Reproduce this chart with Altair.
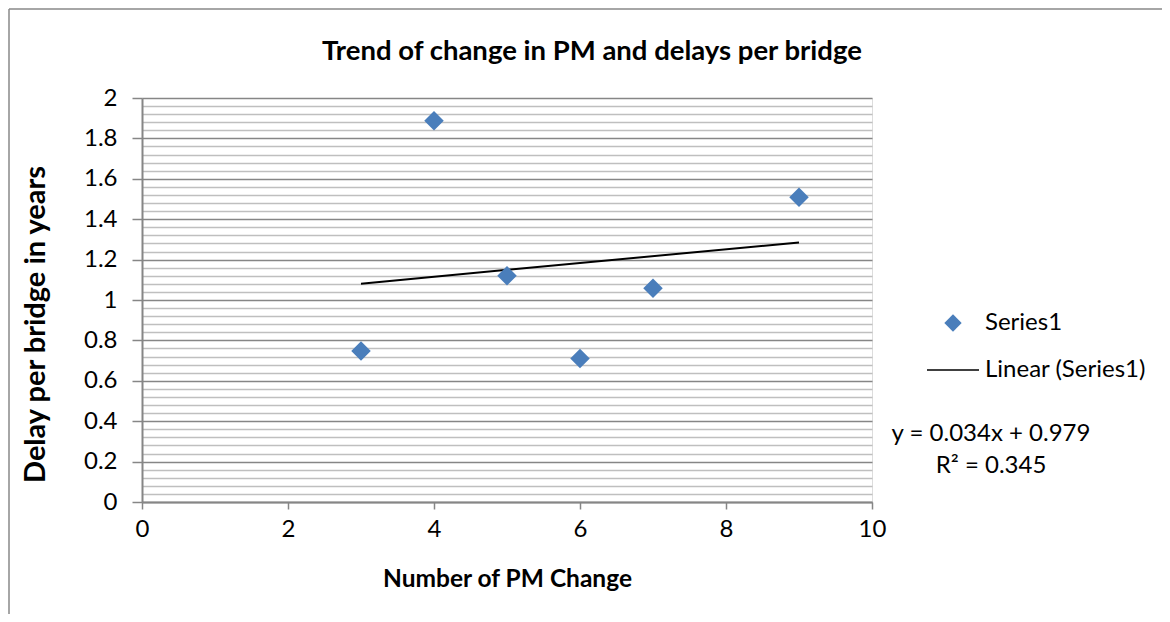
import altair as alt
import pandas as pd

# Data
pm_change = [3, 4, 5, 6, 7, 9]
delay_years = [0.748, 1.887, 1.120, 0.710, 1.058, 1.509]

# Linear trendline endpoints (as drawn, from y = 0.034x + 0.979)
trend_x = [3, 9]
trend_y = [1.081, 1.285]

x_ticks = [0, 2, 4, 6, 8, 10]
y_ticks = [0, 0.2, 0.4, 0.6, 0.8, 1.0, 1.2, 1.4, 1.6, 1.8, 2.0]
y_minor = [round(i * 0.04, 2) for i in range(51) if i % 5 != 0]

legend_labels = ["Series1", "Linear (Series1)"]
eq_text = "y = 0.034x + 0.979"
r2_text = "R\u00b2 = 0.345"

title_text = "Trend of change in PM and delays per bridge"
x_title = "Number of PM Change"
y_title = "Delay per bridge in years"

FONT = "Lato"
BLUE = "#4A7EBB"
AXIS_GRAY = "#868686"

W, H = 730, 404

pts = pd.DataFrame({"x": pm_change, "y": delay_years})
trend = pd.DataFrame({"x": trend_x, "y": trend_y})
one = pd.DataFrame({"k": [0]})

x_axis = alt.Axis(
    values=x_ticks, grid=False, domainColor=AXIS_GRAY, domainWidth=2,
    tickColor=AXIS_GRAY, tickWidth=1.5, tickSize=7, labelFontSize=24,
    labelFont=FONT, labelColor="#000000", labelPadding=8, labelFlush=False,
    title=x_title, titleFont=FONT, titleFontSize=24.5, titleFontWeight="bold",
    titleColor="#000000", titlePadding=26,
)
x_scale = alt.Scale(domain=[0, 10], nice=False, zero=False)
y_scale = alt.Scale(domain=[0, 2], nice=False)

points = alt.Chart(pts).mark_point(
    shape="diamond", filled=True, size=380, color=BLUE, opacity=1
).encode(
    x=alt.X("x:Q", scale=x_scale, axis=x_axis),
    y=alt.Y(
        "y:Q", scale=y_scale,
        axis=alt.Axis(
            values=y_ticks, grid=True, gridColor=AXIS_GRAY, gridWidth=1.3,
            domainColor=AXIS_GRAY, domainWidth=2, tickColor=AXIS_GRAY,
            tickWidth=1.5, tickSize=10, labelFontSize=24, labelFont=FONT,
            labelColor="#000000", labelPadding=15, labelFlush=False,
            format="~g", orient="left",
            title=y_title, titleFont=FONT, titleFontSize=29,
            titleFontWeight="bold", titleColor="#000000", titlePadding=33,
            titleY=226,
        ),
    ),
)

trend_line = alt.Chart(trend).mark_line(color="#000000", strokeWidth=2).encode(
    x=alt.X("x:Q", scale=x_scale, axis=x_axis),
    y=alt.Y(
        "y:Q", scale=y_scale,
        axis=alt.Axis(
            values=y_minor, grid=True, gridColor="#BFBFBF", gridWidth=1.3,
            domain=False, ticks=False, labels=False, title=None, orient="right",
        ),
    ),
)

# Chart title as a text mark above the plot
title = alt.Chart(pd.DataFrame({"t": [title_text]})).mark_text(
    align="center", baseline="middle", font=FONT, fontSize=27.5,
    fontWeight="bold", color="#000000"
).encode(x=alt.value(450), y=alt.value(-46), text="t:N")

# Manual legend, placed to the right of the plot like the original
leg_sym = alt.Chart(one).mark_point(
    shape="diamond", filled=True, size=300, color=BLUE, opacity=1
).encode(x=alt.value(811), y=alt.value(225))

leg_line = alt.Chart(one).mark_rule(color="#000000", strokeWidth=1.5).encode(
    x=alt.value(785), x2=alt.value(837), y=alt.value(272)
)

leg_text = alt.Chart(pd.DataFrame({"label": legend_labels, "ypos": [225, 272]})).mark_text(
    align="left", baseline="middle", font=FONT, fontSize=24, color="#000000"
).encode(x=alt.value(843), y=alt.Y("ypos:Q", scale=None), text="label:N")

eq = alt.Chart(pd.DataFrame({"t": [eq_text, r2_text], "ypos": [336, 368]})).mark_text(
    align="center", baseline="middle", font=FONT, fontSize=24, color="#000000"
).encode(x=alt.value(849), y=alt.Y("ypos:Q", scale=None), text="t:N")

# Outer chart border (top and left edges visible, rest runs off the page)
border_v = alt.Chart(one).mark_rule(color="#888888", strokeWidth=1.5).encode(
    x=alt.value(-133), y=alt.value(-89), y2=alt.value(H + 300)
)
border_h = alt.Chart(one).mark_rule(color="#888888", strokeWidth=1.5).encode(
    x=alt.value(-133), x2=alt.value(W + 400), y=alt.value(-89)
)

chart = alt.layer(
    trend_line, points, title, leg_sym, leg_line, leg_text, eq, border_v, border_h
).resolve_axis(y="independent").properties(
    width=W, height=H,
    autosize=alt.AutoSizeParams(type="none"),
    padding={"left": 134, "top": 90, "right": 290, "bottom": 112},
).configure_view(stroke=None).configure(background="#ffffff")

chart.save("out.html", embed_options={"renderer": "svg", "actions": False})
